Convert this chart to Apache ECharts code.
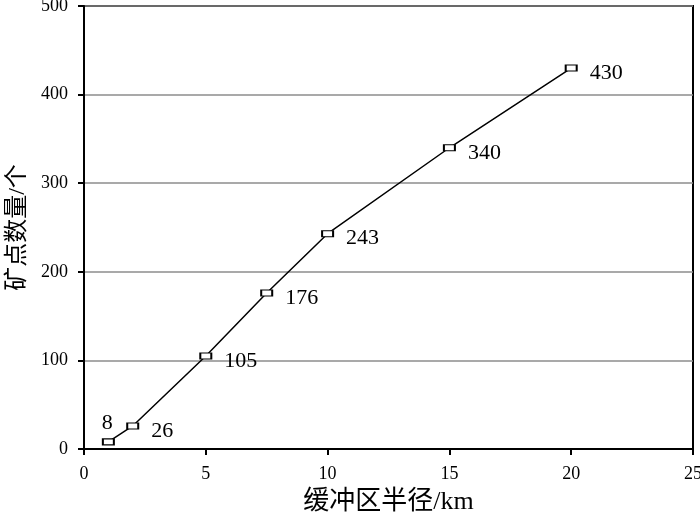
<!DOCTYPE html>
<html>
<head>
<meta charset="utf-8">
<script src="https://cdn.jsdelivr.net/npm/echarts@6/dist/echarts.min.js"></script>
<style>
  html, body { margin: 0; padding: 0; background: #fff; }
  #chart { width: 700px; height: 517px; }
</style>
</head>
<body>
<div id="chart"></div>
<script>
// 缓冲区半径 (km) 与矿点数量
const radius = [1, 2, 5, 7.5, 10, 15, 20]
const mineCount = [8, 26, 105, 176, 243, 340, 430]

const serif = '"Liberation Serif", "DejaVu Serif", "Noto Sans CJK SC", serif'

const myChart = echarts.init(document.getElementById('chart'))

const option = {
  animation: false,
  grid: {
    left: 84,
    right: 7,
    top: 6,
    bottom: 68,
    outerBoundsMode: 'none',
    show: true,
    borderColor: '#000',
    borderWidth: 2
  },
  xAxis: {
    type: 'value',
    min: 0,
    max: 25,
    interval: 5,
    name: '缓冲区半径/km',
    nameLocation: 'middle',
    nameGap: 40,
    nameTextStyle: { fontFamily: serif, fontSize: 26, color: '#000' },
    axisLine: { show: true, lineStyle: { color: '#000', width: 2 } },
    axisTick: { show: true, inside: false, length: 6, lineStyle: { color: '#000', width: 2 } },
    axisLabel: { fontFamily: serif, fontSize: 18, color: '#000', margin: 16 },
    splitLine: { show: false }
  },
  yAxis: {
    type: 'value',
    min: 0,
    max: 500,
    interval: 100,
    name: '矿点数量/个',
    nameLocation: 'middle',
    nameGap: 54,
    nameTextStyle: { fontFamily: serif, fontSize: 24, color: '#000' },
    axisLine: { show: true, lineStyle: { color: '#000', width: 2 } },
    axisTick: { show: true, inside: false, length: 6, lineStyle: { color: '#000', width: 2 } },
    axisLabel: { fontFamily: serif, fontSize: 18, color: '#000', margin: 16 },
    splitLine: { show: true, lineStyle: { color: '#8c8c8c', width: 1.5 } }
  },
  series: [
    {
      type: 'line',
      data: radius.map((x, i) => {
        const item = { value: [x, mineCount[i]] }
        if (i === 0) {
          // 第一个点的标签在上方
          item.label = { position: 'top', distance: 4, offset: [-1, 0] }
        }
        return item
      }),
      symbol: 'rect',
      symbolSize: [11, 6],
      showAllSymbol: true,
      lineStyle: { color: '#000', width: 1.5 },
      itemStyle: { color: '#fff', borderColor: '#000', borderWidth: 1.5 },
      label: {
        show: true,
        position: 'right',
        distance: 12,
        offset: [0, 5],
        fontFamily: serif,
        fontSize: 22,
        color: '#000',
        formatter: (p) => p.value[1]
      }
    }
  ]
}
myChart.setOption(option)
</script>
</body>
</html>
